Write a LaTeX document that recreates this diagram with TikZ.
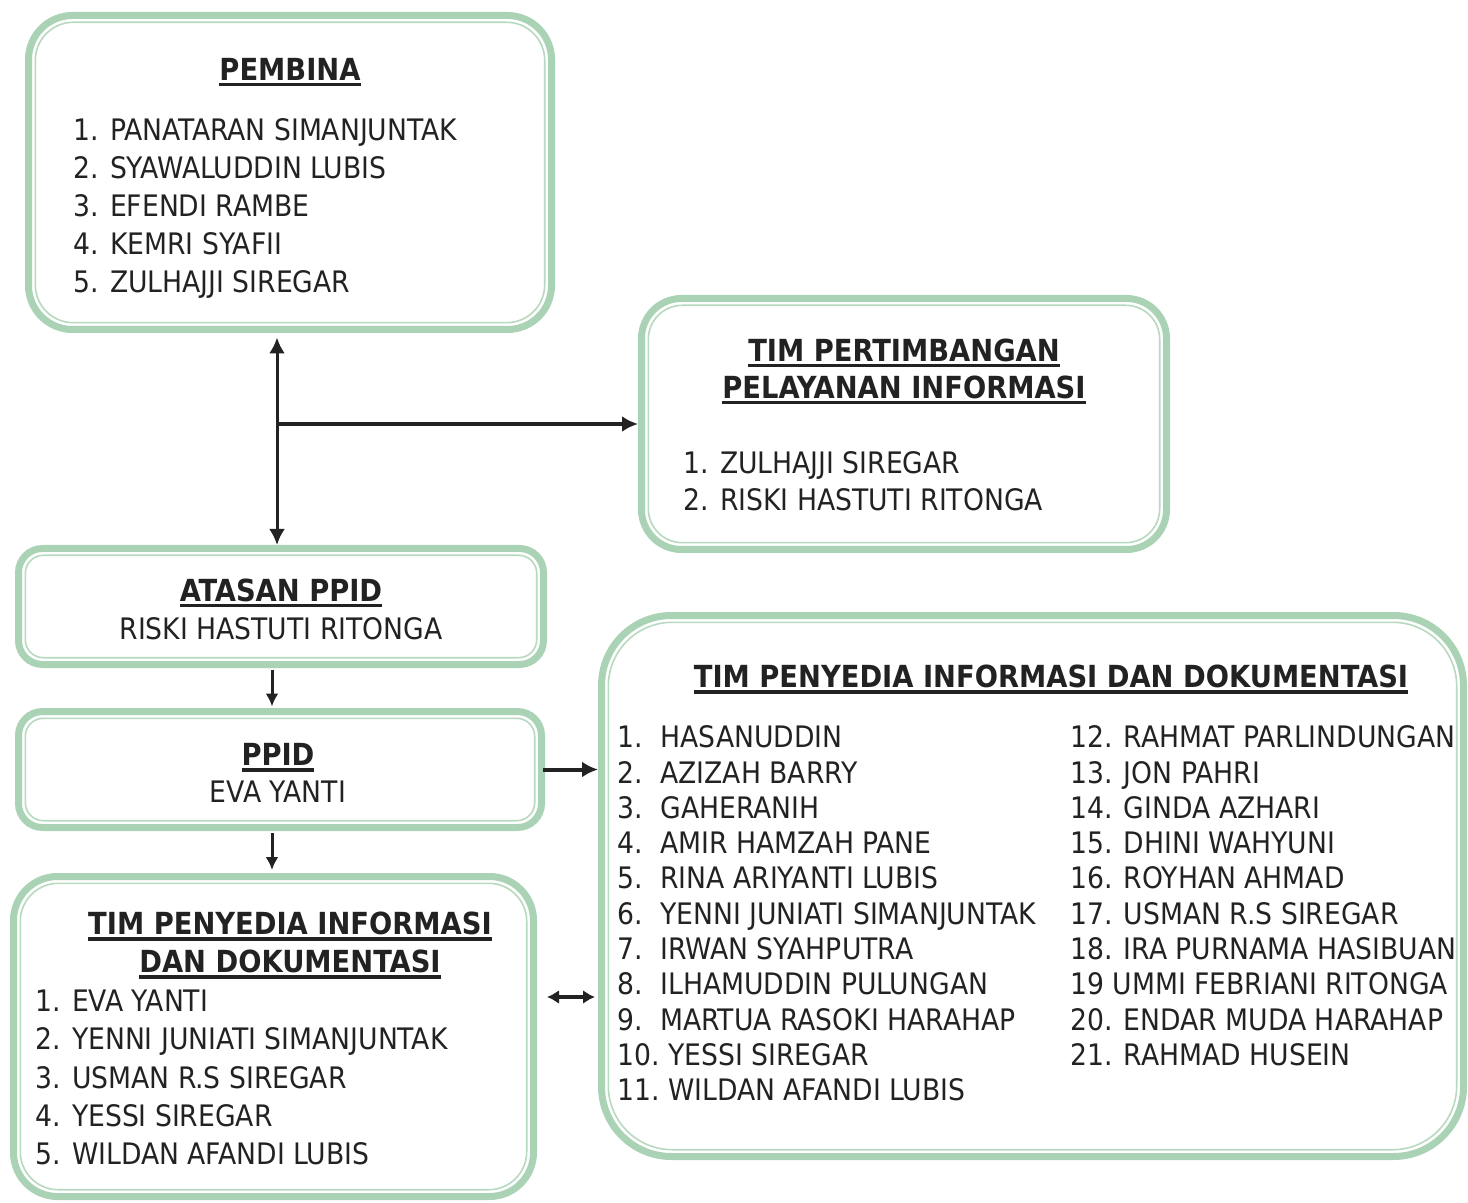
\documentclass[tikz,border=0pt]{standalone}
\usepackage{fontspec}
\setmainfont{DejaVu Sans Condensed}
\usepackage{tikz}
\usetikzlibrary{arrows.meta}

\definecolor{boxgreen}{RGB}{170,210,180}
\definecolor{inkgray}{RGB}{34,34,34}

\newcommand{\headrule}[1]{\setbox0\hbox{#1}\rlap{\vrule height -1.3pt depth 2.9pt width \wd0}\box0}

\tikzset{
  unitbox/.style={draw=boxgreen, line width=3.5pt, rounded corners=#1, outer sep=0pt, inner sep=0pt},
  innerline/.style={draw=boxgreen!85, line width=0.8pt},
  item/.style={anchor=west, inner sep=0pt, text height=10.7pt, text depth=0pt, text=inkgray, font=\fontsize{14.8pt}{19pt}\selectfont},
  head/.style={item, anchor=center, font=\fontsize{15.2pt}{19pt}\selectfont\bfseries},
  link/.style={line width=1.5pt, draw=inkgray},
}

\begin{document}
\begin{tikzpicture}[x=0.5pt, y=-0.5pt, >={Latex[length=8pt,width=8pt]}]
\useasboundingbox (0,0) rectangle (1468,1203);

% boxes
\node[unitbox=22pt, minimum width=261.5pt, minimum height=157pt] (pembina) at (290,172.5) {};
\node[unitbox=20pt, minimum width=262.5pt, minimum height=125.5pt] (tpi) at (904,424) {};
\node[unitbox=12pt, minimum width=262.5pt, minimum height=58pt] (atasan) at (281,606.5) {};
\node[unitbox=12pt, minimum width=261.5pt, minimum height=58pt] (ppid) at (280,769.5) {};
\node[unitbox=22pt, minimum width=260pt, minimum height=160pt] (tpid) at (273.5,1036.5) {};
\node[unitbox=35pt, minimum width=431pt, minimum height=270.5pt] (tpidfull) at (1032.5,886) {};

% inner lines
\foreach \b/\r in {pembina/19pt, tpi/17pt, atasan/9pt, ppid/9pt, tpid/19pt, tpidfull/32pt}
  \draw[innerline, rounded corners=\r] ([shift={(3.4pt,-3.4pt)}]\b.north west) rectangle ([shift={(-3.4pt,3.4pt)}]\b.south east);

% pembina
\node[head] (pembina-title) at (290,70) {\headrule{PEMBINA}};
\foreach \name [count=\i] in {PANATARAN SIMANJUNTAK, SYAWALUDDIN LUBIS, EFENDI RAMBE, KEMRI SYAFII, ZULHAJJI SIREGAR}
  \node[item] (pembina-\i) at (73,{130+38*(\i-1)}) {\i. \name};

% tim pertimbangan
\node[head] (tpi-title1) at (904,351) {\headrule{TIM PERTIMBANGAN}};
\node[head] (tpi-title2) at (904,388) {\headrule{PELAYANAN INFORMASI}};
\foreach \name [count=\i] in {ZULHAJJI SIREGAR, RISKI HASTUTI RITONGA}
  \node[item] (tpi-\i) at (683,{463+37*(\i-1)}) {\i. \name};

% atasan ppid
\node[head] (atasan-title) at (281,591) {\headrule{ATASAN PPID}};
\node[item, anchor=center] (atasan-name) at (281,629) {RISKI HASTUTI RITONGA};

% ppid
\node[head] (ppid-title) at (278,755) {\headrule{PPID}};
\node[item, anchor=center] (ppid-name) at (278,792) {EVA YANTI};

% tim penyedia (kiri)
\node[head] (tpid-title1) at (290,924) {\headrule{TIM PENYEDIA INFORMASI}};
\node[head] (tpid-title2) at (290,962) {\headrule{DAN DOKUMENTASI}};
\foreach \name [count=\i] in {EVA YANTI, YENNI JUNIATI SIMANJUNTAK, USMAN R.S SIREGAR, YESSI SIREGAR, WILDAN AFANDI LUBIS}
  \node[item] (tpid-\i) at (35,{1001+38.25*(\i-1)}) {\i. \name};

% tim penyedia (kanan)
\node[head] (tpidfull-title) at (1051,677) {\headrule{TIM PENYEDIA INFORMASI DAN DOKUMENTASI}};
\foreach \name [count=\i] in {HASANUDDIN, AZIZAH BARRY, GAHERANIH, AMIR HAMZAH PANE, RINA ARIYANTI LUBIS, YENNI JUNIATI SIMANJUNTAK, IRWAN SYAHPUTRA, ILHAMUDDIN PULUNGAN, MARTUA RASOKI HARAHAP, YESSI SIREGAR, WILDAN AFANDI LUBIS}
  \node[item] (left-\i) at (617,{737+35.3*(\i-1)}) {\ifnum\i<10 \makebox[21.5pt][l]{\i.}\else\i.\ \fi\name};
\foreach \name [count=\i] in {12. RAHMAT PARLINDUNGAN, 13. JON PAHRI, 14. GINDA AZHARI, 15. DHINI WAHYUNI, 16. ROYHAN AHMAD, 17. USMAN R.S SIREGAR, 18. IRA PURNAMA HASIBUAN, 19 UMMI FEBRIANI RITONGA, 20. ENDAR MUDA HARAHAP, 21. RAHMAD HUSEIN}
  \node[item] (right-\i) at (1070,{737+35.3*(\i-1)}) {\name};

% connectors
\draw[link, <->, shorten <=1.75pt, shorten >=4pt] ([xshift=-2pt]atasan.north) -- ([xshift=-2pt]atasan.north |- pembina.south);
\coordinate (branch) at ([xshift=-2pt]atasan.north |- tpi.west);
\draw[link, ->, line width=2.2pt, shorten >=1.75pt] (branch) -- (tpi.west);
\draw[link, ->, >={Latex[length=6.5pt,width=6.5pt]}, shorten <=2.5pt, shorten >=2.5pt] ([xshift=-4.5pt]atasan.south) -- ([xshift=-4.5pt]atasan.south |- ppid.north);
\draw[link, ->, >={Latex[length=6.5pt,width=6.5pt]}, shorten <=2.75pt, shorten >=3.25pt] ([xshift=-4pt]ppid.south) -- ([xshift=-4pt]ppid.south |- tpid.north);
\draw[link, ->, line width=2pt, shorten <=0.5pt, shorten >=1.75pt] (ppid.east) -- (ppid.east -| tpidfull.west);
\draw[link, <->, line width=2pt, >={Latex[length=6pt,width=7pt]}, shorten <=6.75pt, shorten >=3.25pt] ([yshift=19.75pt]tpid.east) -- ([yshift=19.75pt]tpid.east -| tpidfull.west);

\end{tikzpicture}
\end{document}
